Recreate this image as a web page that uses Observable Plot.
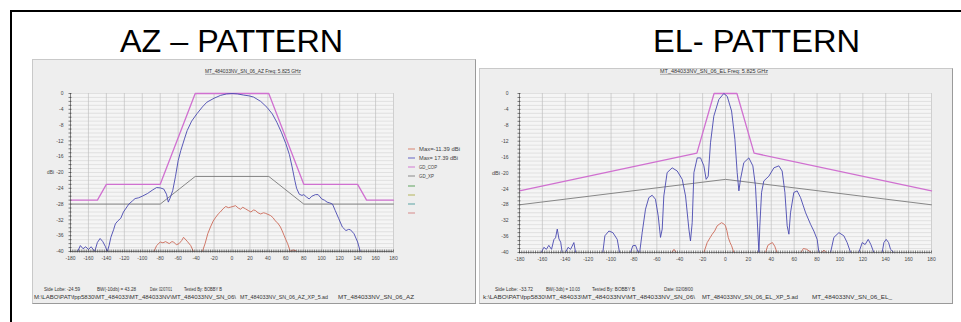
<!DOCTYPE html>
<html>
<head>
<meta charset="utf-8">
<script src="https://cdn.jsdelivr.net/npm/d3@7"></script>
<script src="https://cdn.jsdelivr.net/npm/@observablehq/plot@0.6"></script>
<style>
html,body{margin:0;padding:0;background:#fff;width:961px;height:322px;overflow:hidden;font-family:"Liberation Sans",Arial,sans-serif;}
#frame{position:absolute;left:10px;top:10px;width:1000px;height:400px;border:2px solid #000;box-sizing:border-box;}
.panel{position:absolute;background:#eeeeee;box-sizing:border-box;border-top:1px solid #c9c9c9;border-left:1px solid #c9c9c9;border-right:1.5px solid #9a9a9a;border-bottom:1.5px solid #9a9a9a;}
.chart{position:absolute;}
#overlay{position:absolute;left:0;top:0;}
</style>
</head>
<body>
<div id="frame"></div>
<div class="panel" style="left:32px;top:59px;width:444px;height:245px;"></div>
<div class="panel" style="left:479px;top:68px;width:474px;height:236px;"></div>
<div class="chart" id="az" style="left:40px;top:85px;"></div>
<div class="chart" id="el" style="left:480px;top:85px;"></div>
<svg id="overlay" width="961" height="322" font-family="Liberation Sans, Arial, sans-serif"></svg>
<script>
// ---------------- data ----------------
const xTicks = [-180,-160,-140,-120,-100,-80,-60,-40,-20,0,20,40,60,80,100,120,140,160,180];
const yTicks = [0,-4,-8,-12,-16,-20,-24,-28,-32,-36,-40];

// AZ pattern: co-pol (blue), cross-pol (red), masks GD_COP (magenta), GD_XP (grey)
const azCo = [[-172,-40],[-169,-38.5],[-166,-39.3],[-163,-38.8],[-160,-39.5],[-157,-38.8],[-153,-40],[-150,-37.7],[-147,-36.7],[-144,-37.5],[-141,-38.8],[-139,-40],[-137,-38.5],[-135,-36.4],[-132,-34.5],[-130,-33],[-127,-32.2],[-124,-31.6],[-121,-30],[-118,-29],[-115,-28],[-111,-27.2],[-108,-26.6],[-104,-26.4],[-100,-26],[-94,-25.3],[-89,-24.5],[-84,-23.8],[-80,-23.9],[-76,-24.2],[-73,-25.5],[-71,-27.5],[-69,-26.5],[-66,-24.5],[-63,-21],[-60,-17],[-57,-14.4],[-53,-11.5],[-50,-9.4],[-45,-7],[-39,-5.1],[-33,-3.4],[-28,-2.2],[-20,-1.2],[-13,-0.5],[-6,-0.1],[0,0],[6,-0.1],[13,-0.4],[19,-0.6],[24,-0.9],[32,-2],[39,-3.5],[45,-5.2],[50,-7.3],[55,-9.8],[60,-12.7],[64,-15.5],[67,-18.6],[70,-22],[72,-24],[75,-25.5],[78,-25.8],[80,-25.6],[83,-26.2],[86,-26.7],[89,-26],[93,-25.6],[96,-25.6],[100,-26.7],[103,-27],[106,-27.5],[109,-27.7],[112,-28],[115,-29.6],[119,-31.7],[123,-33.8],[127,-34.7],[130,-34.4],[132,-34.5],[136,-35.5],[140,-37.6],[143,-40]];
const azXp = [[-87,-40],[-84,-38.5],[-80,-37.6],[-77,-37.8],[-74,-37.5],[-70,-38],[-67,-37.5],[-65,-37.6],[-62,-38.3],[-59,-38],[-56,-37.2],[-54,-36.4],[-50,-37.4],[-46,-38.5],[-43,-40],[-38,NaN],[-33,-40],[-30,-38],[-27,-35.5],[-24,-33.8],[-21,-32.3],[-18,-31.3],[-15,-30.4],[-13,-30],[-10,-29.2],[-7,-28.6],[-4,-28.9],[-2,-28.8],[1,-28.6],[4,-28.4],[7,-29],[9.5,-29.3],[12,-28.8],[15,-29.2],[18,-29.6],[21,-30],[24,-29.5],[26,-29.6],[29,-30.2],[32,-30.5],[35,-30.2],[37,-30.3],[40,-30.6],[43,-30.9],[46,-31.5],[48,-32.2],[51,-32.8],[54,-33.8],[56,-34.8],[58,-35.9],[60,-37],[62,-38],[65,-40],[68,-39.6],[71,-39.8]];
const azCopMask = [[-180,-27],[-150,-27],[-140,-23],[-80,-23],[-41,0],[41,0],[80,-23],[140,-23],[150,-27],[180,-27]];
const azXpMask = [[-180,-28],[-80,-28],[-41,-21],[41,-21],[80,-28],[180,-28]];

// EL pattern
const elCo = [[-161,-40],[-158.7,-38.7],[-156.5,-39.2],[-154.4,-38.2],[-152,-39.2],[-150,-36.8],[-148.5,-36.3],[-147,-34.1],[-145.5,-36.6],[-144,-37.4],[-142.7,-40],[-141,NaN],
 [-139.8,-40],[-137.5,-38.7],[-135.4,-39.2],[-134,-38.4],[-132.5,-37.5],[-131,-40],[-120,NaN],
 [-107.2,-40],[-105.4,-35.8],[-101.9,-34.6],[-98.4,-35],[-94.6,-36.7],[-92.6,-40],[-88,NaN],
 [-83,-40],[-81,-38.3],[-78.6,-38.2],[-76.3,-40],[-75,-40],[-72.8,-35],[-69.9,-29.1],[-67,-26.2],[-64.1,-25.6],[-61.2,-26.6],[-58.8,-30.8],[-56.8,-36.2],[-55.3,-34.1],[-53.9,-25.8],[-51,-19.9],[-46.6,-18.7],[-42.2,-19.5],[-37.8,-21.6],[-34.9,-25.8],[-32,-34.1],[-30.6,-37.1],[-29.1,-32.5],[-27.6,-19.9],[-24.7,-16.2],[-21.8,-16.2],[-18.9,-18.2],[-16.9,-21.6],[-15.1,-20.8],[-13.1,-12.4],[-10.2,-5.7],[-5.8,-1.5],[-1.5,0],[1.5,-0.7],[5.3,-4.4],[8.2,-11.5],[10.2,-19.9],[11.7,-24.5],[13.1,-21.6],[16,-17.4],[20.4,-16.2],[23.9,-18.2],[26.2,-23.3],[27.7,-31.6],[29.2,-40],[30,-33.3],[31.5,-24.9],[33.5,-22],[37.9,-20.8],[42.3,-18.7],[46.6,-18.2],[49.5,-19.5],[51.9,-24.9],[53.9,-33.3],[55.4,-35.4],[56.8,-30],[59.7,-24.9],[62.6,-24.5],[65.6,-26.2],[70,-30],[74.3,-32.9],[77.2,-34.6],[80.1,-36.7],[81.6,-40],[85,NaN],
 [91.8,-40],[94.7,-36.2],[99.1,-35],[103.4,-35.8],[106.3,-37.5],[109.3,-40],[112,NaN],
 [116.5,-40],[119.5,-37.5],[122,-38],[124.7,-36.7],[127,-38],[129.6,-40],[132,NaN],
 [136.9,-40],[138.4,-37.5],[140.4,-36.7],[142.5,-37.5],[144.2,-39.2],[147.1,-40]];
const elXp = [[-47,-40],[-45,-39.2],[-43,-40],[-30,NaN],[-18.9,-40],[-16,-37.5],[-13.5,-36.3],[-11.6,-35.4],[-9.5,-34.6],[-7.3,-33.3],[-5,-32.8],[-3.5,-32.5],[-1.5,-32.8],[0,-33.3],[1.2,-34.5],[2.4,-36.2],[4,-37.5],[5.3,-38.3],[7.3,-40],[20,NaN],[35,-40],[37,-38.2],[39,-37.8],[41,-37.5],[43,-38.4],[45,-40],[55,NaN],[66,-40],[68,-39],[71,-39.2],[73,-39.6],[75,-40],[80,NaN],[84,-40],[86,-39.4],[88,-40]];
const elCopMask = [[-180,-24.5],[-25,-15],[-10,0],[10,0],[25,-15],[180,-24.5]];
const elXpMask = [[-180,-28],[0,-21.6],[180,-28]];

const legendLabels = ["Max=-11.39 dBi","Max= 17.39 dBi","GD_COP","GD_XP","","","",""];
const legendColors = ["#d98470","#6464c4","#d27ad2","#8a8a8a","#5fa35f","#b4b45a","#5aa3a3","#d68a8a"];

// ---------------- chart ----------------
const xGrid = d3.range(-160, 181, 20);
const yGrid = d3.range(-39, 1, 1);
const xMinor = d3.range(-180, 181, 2);
const yMinor = d3.range(-40, 1, 1);

function makeChart(co, xp, cop, cxp, o) {
  return Plot.plot({
    width: o.width, height: o.height,
    marginLeft: o.ml, marginRight: o.mr, marginTop: o.mt, marginBottom: o.mb,
    style: {background: "transparent", fontFamily: "Liberation Sans, Arial, sans-serif", fontSize: "5px", color: "#444", overflow: "visible"},
    x: {domain: [-180, 180], ticks: xTicks, tickSize: 0, tickPadding: 5, tickFormat: d => String(d), label: null},
    y: {domain: [-40, 0], ticks: yTicks, tickSize: 0, tickPadding: o.ypad, tickFormat: d => String(d), label: null},
    marks: [
      Plot.frame({fill: "#f5f5f5", stroke: "none"}),
      Plot.ruleY(yGrid, {stroke: "#d4d4d4", strokeWidth: 0.6}),
      Plot.ruleX(xGrid, {stroke: "#c0c0c0", strokeWidth: 0.7}),
      Plot.line(cxp, {x: d => d[0], y: d => d[1], stroke: "#7a7a7a", strokeWidth: 0.9}),
      Plot.line(cop, {x: d => d[0], y: d => d[1], stroke: "#d070d0", strokeWidth: 1.3}),
      Plot.line(xp, {x: d => d[0], y: d => d[1], stroke: "#cc6a58", strokeWidth: 0.9}),
      Plot.line(co, {x: d => d[0], y: d => d[1], stroke: "#4848b0", strokeWidth: 0.9}),
      Plot.ruleY([-40], {stroke: "#666", strokeWidth: 0.8}),
      Plot.ruleX([-180], {stroke: "#666", strokeWidth: 0.8}),
      Plot.ruleX(xMinor, {y1: -40, y2: -40, insetTop: -1.5, insetBottom: -1.5, stroke: "#333", strokeWidth: 0.6}),
      Plot.ruleY(yMinor, {x1: -180, x2: -180, insetLeft: -1.5, insetRight: -1.5, stroke: "#333", strokeWidth: 0.6})
    ]
  });
}

document.getElementById("az").appendChild(makeChart(azCo, azXp, azCopMask, azXpMask,
  {width: 360, height: 185, ml: 30, mr: 7, mt: 8, mb: 19, ypad: 7}));
document.getElementById("el").appendChild(makeChart(elCo, elXp, elCopMask, elXpMask,
  {width: 458, height: 186, ml: 39, mr: 7, mt: 8, mb: 19, ypad: 11}));

// ---------------- text overlay ----------------
const svg = d3.select("#overlay");
function txt(s, x, y, size, w, fill) {
  const t = svg.append("text").attr("x", x).attr("y", y).attr("font-size", size).attr("fill", fill || "#333").text(s);
  if (w) t.attr("textLength", w).attr("lengthAdjust", "spacingAndGlyphs");
  return t;
}
txt("AZ \u2013 PATTERN", 120, 52, 32, 223, "#000");
txt("EL- PATTERN", 653, 52, 32, 207, "#000");

txt("MT_484033NV_SN_06_AZ  Freq: 5.825 GHz", 205, 73, 5, 96, "#333");
svg.append("line").attr("x1", 205).attr("x2", 301).attr("y1", 74.3).attr("y2", 74.3).attr("stroke", "#666").attr("stroke-width", 0.5);
txt("MT_484033NV_SN_06_EL  Freq: 5.825 GHz", 660, 73, 5, 108, "#333");
svg.append("line").attr("x1", 660).attr("x2", 768).attr("y1", 74.3).attr("y2", 74.3).attr("stroke", "#666").attr("stroke-width", 0.5);

txt("dBi", 47, 174, 5, 7, "#444");
txt("dBi", 492, 175, 5, 8, "#444");

legendLabels.forEach((s, i) => {
  const y = [149,158,167,176,186,195,204,213][i];
  svg.append("line").attr("x1", 408).attr("x2", 415).attr("y1", y).attr("y2", y).attr("stroke", legendColors[i]).attr("stroke-width", 1);
  if (s) txt(s, 419, y + 1.8, 5, [41, 39, 18, 15][i], "#444");
});

// footers
txt("Side Lobe: -24.59", 44, 291.3, 5, 36);
txt("BW(-10db) = 43.28", 97, 291.3, 5, 39);
txt("Date: 02/07/01", 150, 291.3, 5, 22);
txt("Tested By: BOBBY B", 184, 291.3, 5, 38);
txt("M:\\LABO\\PAT\\fpp5830\\MT_484033\\MT_484033NV\\MT_484033NV_SN_06\\", 34, 299.3, 5, 202);
txt("MT_484033NV_SN_06_AZ_XP_5.ad", 240, 299.3, 5, 88);
txt("MT_484033NV_SN_06_AZ", 338, 299.3, 5, 76);

txt("Side Lobe: -33.72", 495, 291.3, 5, 38);
txt("BW(-3db) = 10.03", 546, 291.3, 5, 34);
txt("Tested By: BOBBY B", 592, 291.3, 5, 43);
txt("Date: 02/08/00", 664, 291.3, 5, 29);
txt("k:\\LABO\\PAT\\fpp5830\\MT_484033\\MT_484033NV\\MT_484033NV_SN_06\\", 483, 299.3, 5, 212);
txt("MT_484033NV_SN_06_EL_XP_5.ad", 702, 299.3, 5, 96);
txt("MT_484033NV_SN_06_EL_", 812, 299.3, 5, 80);
</script>
</body>
</html>
